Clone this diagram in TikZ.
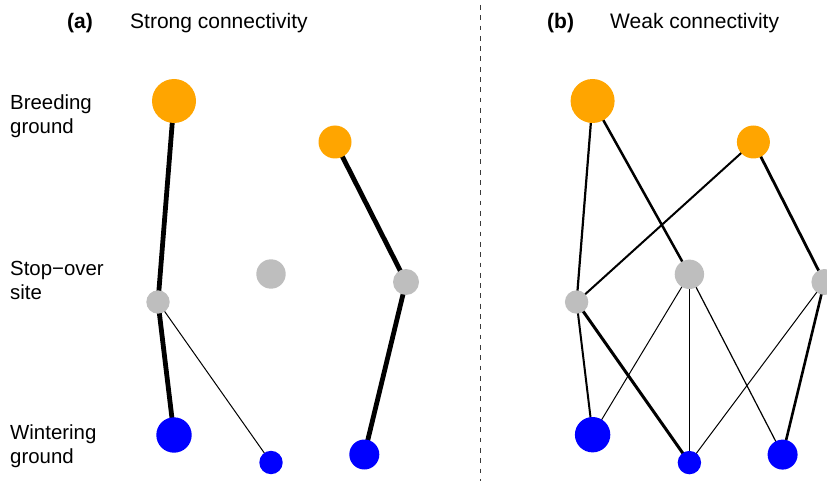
\documentclass[tikz,border=0pt]{standalone}
\usepackage{fontspec}
\setmainfont{Liberation Sans}
\usetikzlibrary{backgrounds}
\definecolor{rorange}{HTML}{FFA500}
\definecolor{rgray}{HTML}{BEBEBE}
\definecolor{rblue}{HTML}{0000FF}
\definecolor{dashgray}{HTML}{3A3A3A}
\tikzset{
  site/.style={circle, inner sep=0pt, outer sep=0pt, minimum size=#1},
  breed/.style={site=#1, fill=rorange},
  stop/.style={site=#1, fill=rgray},
  winter/.style={site=#1, fill=rblue},
  link/.style={line width=#1, line cap=butt},
  lbl/.style={anchor=base west, inner sep=0pt, font=\fontsize{20.4}{24}\selectfont},
  ttl/.style={anchor=base west, inner sep=0pt, font=\fontsize{21}{25}\selectfont},
}
\begin{document}
\begin{tikzpicture}[x=1pt, y=-1pt]
\useasboundingbox (0,0) rectangle (827,481);
\clip (0,0) rectangle (827,481);
% titles
\node[ttl, font=\fontsize{21}{25}\selectfont\bfseries] (ta) at (67,29) {(a)};
\node[ttl] (tat) at (130,29) {Strong connectivity};
\node[ttl, font=\fontsize{21}{25}\selectfont\bfseries] (tb) at (547,29) {(b)};
\node[ttl] (tbt) at (610,29) {Weak connectivity};
% row labels
\node[lbl] (l1) at (10,110) {Breeding};
\node[lbl] (l1b) at (10,134) {ground};
\node[lbl] (l2) at (10,275.5) {Stop\char"2212over};
\node[lbl] (l2b) at (10,299.5) {site};
\node[lbl] (l3) at (10,439.5) {Wintering};
\node[lbl] (l3b) at (10,463.5) {ground};
% divider
\coordinate (dtop) at (480.3,5);
\coordinate (dbot) at (480.3,481);
\draw[dashgray, line width=1.6pt, dash pattern=on 4.8pt off 5.5pt] (dtop) -- (dbot);
% panel (a) nodes
\node[breed=44pt] (aB1) at (174,101) {};
\node[breed=33pt] (aB2) at (335,142) {};
\node[stop=23.4pt] (aS1) at (158,302) {};
\node[stop=29.4pt] (aS2) at (271,274) {};
\node[stop=26pt] (aS3) at (406,282) {};
\node[winter=35.4pt] (aW1) at (174,435) {};
\node[winter=23.4pt] (aW2) at (271,462.5) {};
\node[winter=30pt] (aW3) at (364.3,454.5) {};
% panel (b) nodes
\node[breed=44pt] (bB1) at (592.6,101) {};
\node[breed=33pt] (bB2) at (753.4,142) {};
\node[stop=23.4pt] (bS1) at (576.6,302) {};
\node[stop=29.4pt] (bS2) at (689.4,274.3) {};
\node[stop=26pt] (bS3) at (824.4,282) {};
\node[winter=35.4pt] (bW1) at (592.6,434.7) {};
\node[winter=23.4pt] (bW2) at (689.4,462.6) {};
\node[winter=30pt] (bW3) at (782.6,454.6) {};
\begin{scope}[on background layer]
% panel (a) links
\draw[link=4.8pt] (aB1.center) -- (aS1.center);
\draw[link=4.8pt] (aB2.center) -- (aS3.center);
\draw[link=4.8pt] (aS1.center) -- (aW1.center);
\draw[link=1pt] (aS1.center) -- (aW2.center);
\draw[link=4.8pt] (aS3.center) -- (aW3.center);
% panel (b) links
\draw[link=2.2pt] (bB1.center) -- (bS1.center);
\draw[link=2.5pt] (bB1.center) -- (bS2.center);
\draw[link=2pt] (bB2.center) -- (bS1.center);
\draw[link=2.8pt] (bB2.center) -- (bS3.center);
\draw[link=2pt] (bS1.center) -- (bW1.center);
\draw[link=3pt] (bS1.center) -- (bW2.center);
\draw[link=1pt] (bS2.center) -- (bW1.center);
\draw[link=1pt] (bS2.center) -- (bW2.center);
\draw[link=1.2pt] (bS2.center) -- (bW3.center);
\draw[link=1pt] (bS3.center) -- (bW2.center);
\draw[link=2.6pt] (bS3.center) -- (bW3.center);
\end{scope}
\end{tikzpicture}
\end{document}
